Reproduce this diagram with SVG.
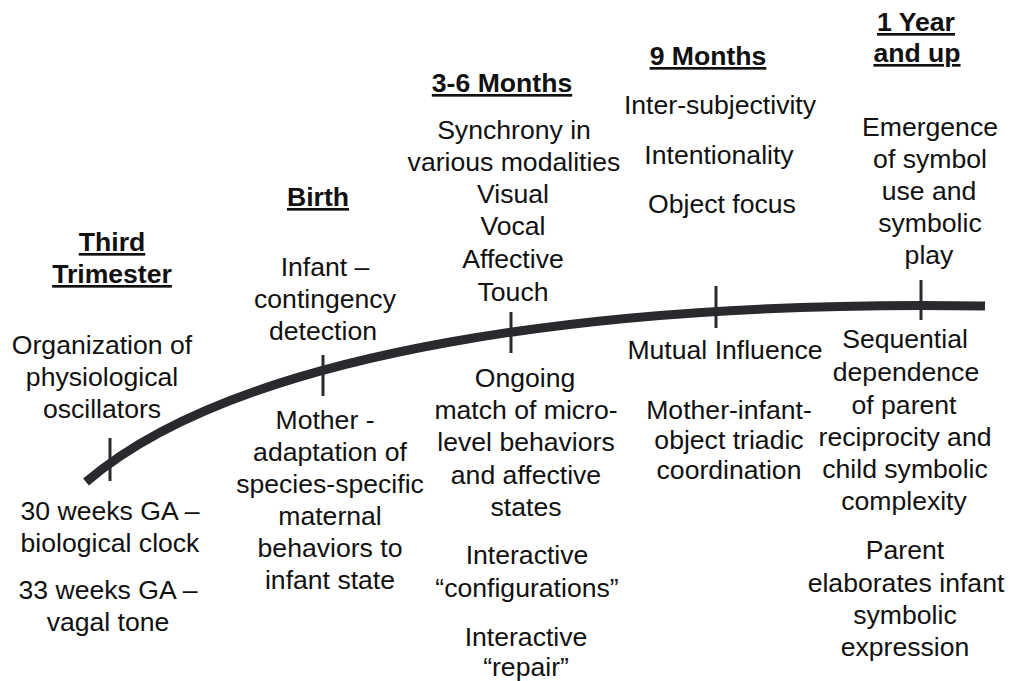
<svg xmlns="http://www.w3.org/2000/svg" width="1011" height="681" viewBox="0 0 1011 681">
<style>
text{font-family:"Liberation Sans",Arial,sans-serif;font-size:26.6px;fill:#111;text-anchor:middle}
.h{font-weight:bold;text-decoration:underline}
.tick{stroke:#2a2a2e;stroke-width:3;fill:none}
</style>
<rect width="1011" height="681" fill="#fff"/>
<g id="connectors">
<path d="M86,482 C240,350 600,300 985,306" stroke="#2a2a2e" stroke-width="9" fill="none"/>
<line class="tick" x1="110" y1="438" x2="110" y2="481"/>
<line class="tick" x1="323" y1="355" x2="323" y2="396"/>
<line class="tick" x1="511" y1="312" x2="511" y2="353"/>
<line class="tick" x1="716" y1="286" x2="716" y2="328"/>
<line class="tick" x1="921" y1="280" x2="921" y2="320"/>
</g>
<g id="third-trimester">
<text class="h" x="112" y="251">Third</text>
<text class="h" x="112" y="283">Trimester</text>
<text x="102" y="354">Organization of</text>
<text x="102" y="386">physiological</text>
<text x="102" y="418">oscillators</text>
<text x="110" y="520">30 weeks GA –</text>
<text x="110" y="552">biological clock</text>
<text x="108" y="599">33 weeks GA –</text>
<text x="108" y="631">vagal tone</text>
</g>
<g id="birth">
<text class="h" x="318" y="206">Birth</text>
<text x="325" y="276">Infant –</text>
<text x="325" y="308">contingency</text>
<text x="323" y="340">detection</text>
<text x="325" y="429">Mother -</text>
<text x="330" y="461">adaptation of</text>
<text x="330" y="493">species-specific</text>
<text x="330" y="525">maternal</text>
<text x="330" y="557">behaviors to</text>
<text x="330" y="589">infant state</text>
</g>
<g id="months-3-6">
<text class="h" x="502" y="92">3-6 Months</text>
<text x="514" y="139">Synchrony in</text>
<text x="514" y="171">various modalities</text>
<text x="513" y="203">Visual</text>
<text x="513" y="235">Vocal</text>
<text x="513" y="268">Affective</text>
<text x="513" y="301">Touch</text>
<text x="525" y="387">Ongoing</text>
<text x="526" y="419">match of micro-</text>
<text x="526" y="451">level behaviors</text>
<text x="526" y="484">and affective</text>
<text x="526" y="516">states</text>
<text x="527" y="564">Interactive</text>
<text x="527" y="597">“configurations”</text>
<text x="526" y="646">Interactive</text>
<text x="526" y="676">“repair”</text>
</g>
<g id="months-9">
<text class="h" x="708" y="65">9 Months</text>
<text x="720" y="114">Inter-subjectivity</text>
<text x="719" y="164">Intentionality</text>
<text x="722" y="213">Object focus</text>
<text x="725" y="359">Mutual Influence</text>
<text x="729" y="419">Mother-infant-</text>
<text x="729" y="449">object triadic</text>
<text x="729" y="479">coordination</text>
</g>
<g id="year-1">
<text class="h" x="916" y="31">1 Year</text>
<text class="h" x="917" y="62">and up</text>
<text x="930" y="136">Emergence</text>
<text x="930" y="168">of symbol</text>
<text x="929" y="200">use and</text>
<text x="930" y="232">symbolic</text>
<text x="929" y="264">play</text>
<text x="905" y="348">Sequential</text>
<text x="906" y="381">dependence</text>
<text x="904" y="414">of parent</text>
<text x="905" y="446">reciprocity and</text>
<text x="905" y="478">child symbolic</text>
<text x="904" y="510">complexity</text>
<text x="905" y="559">Parent</text>
<text x="906" y="592">elaborates infant</text>
<text x="905" y="624">symbolic</text>
<text x="905" y="656">expression</text>
</g>
</svg>
